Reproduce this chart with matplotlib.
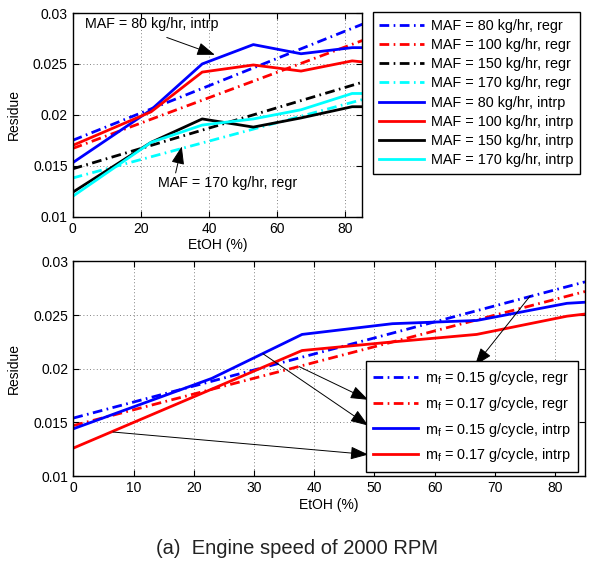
import matplotlib.pyplot as plt
from matplotlib.ticker import FixedLocator

plt.rcParams['font.family'] = ['Liberation Sans', 'DejaVu Sans']
plt.rcParams['font.size'] = 10
plt.rcParams['mathtext.default'] = 'regular'

# EtOH points of the interpolated curves
etoh = [0, 23, 38, 53, 67, 82, 85]
etoh_regr = [0, 85]

# top panel: MAF sweep
maf_labels = ['80', '100', '150', '170']
maf_colors = ['#0000ff', '#ff0000', '#000000', '#00ffff']
maf_regr = [
    [0.0175, 0.0289],
    [0.0167, 0.0273],
    [0.0147, 0.0232],
    [0.0138, 0.0215],
]
maf_intrp = [
    [0.0153, 0.0205, 0.0250, 0.0269, 0.0260, 0.0266, 0.0266],
    [0.0170, 0.0203, 0.0242, 0.0249, 0.0243, 0.0253, 0.0252],
    [0.0124, 0.0173, 0.0196, 0.0188, 0.0197, 0.0208, 0.0208],
    [0.0120, 0.0173, 0.0190, 0.0196, 0.0205, 0.0221, 0.0221],
]

# bottom panel: fuel mass sweep
mf_labels = ['0.15', '0.17']
mf_colors = ['#0000ff', '#ff0000']
mf_regr = [
    [0.0154, 0.0281],
    [0.0147, 0.0272],
]
mf_intrp = [
    [0.0144, 0.0191, 0.0232, 0.0242, 0.0245, 0.0261, 0.0262],
    [0.0126, 0.0181, 0.0217, 0.0225, 0.0232, 0.0249, 0.0251],
]

dashdot = (0, (3.5, 1.6, 0.6, 1.6))
arrow = dict(arrowstyle='-|>,head_length=0.55,head_width=0.2', color='k',
             lw=0.7, mutation_scale=20, shrinkA=0, shrinkB=0)


def style_axes(ax, xticks):
    ax.set_xlim(0, 85)
    ax.set_ylim(0.01, 0.03)
    ax.xaxis.set_major_locator(FixedLocator(xticks))
    ax.set_yticks([0.01, 0.015, 0.02, 0.025, 0.03])
    ax.set_yticklabels(['0.01', '0.015', '0.02', '0.025', '0.03'])
    ax.tick_params(direction='in', top=True, right=True, length=4, width=0.8)
    ax.grid(True, color='0.35', linestyle=(0, (1, 3)), lw=0.6)
    for s in ax.spines.values():
        s.set_linewidth(1.0)
    ax.set_xlabel('EtOH (%)', labelpad=2)
    ax.set_ylabel('Residue', labelpad=9)


fig = plt.figure(figsize=(5.93, 5.61), dpi=100)

ax1 = fig.add_axes([0.1226, 0.6137, 0.4885, 0.3631])
for i in range(4):
    ax1.plot(etoh_regr, maf_regr[i], color=maf_colors[i], ls=dashdot, lw=2,
             label='MAF = %s kg/hr, regr' % maf_labels[i])
for i in range(4):
    ax1.plot(etoh, maf_intrp[i], color=maf_colors[i], lw=2,
             label='MAF = %s kg/hr, intrp' % maf_labels[i])
style_axes(ax1, [0, 20, 40, 60, 80])

ax1.text(3.6, 0.0289, 'MAF = 80 kg/hr, intrp', va='center', fontsize=10.3)
ax1.annotate('', xy=(41.7, 0.0259), xytext=(27.6, 0.0276), arrowprops=arrow)
ax1.text(25.0, 0.0133, 'MAF = 170 kg/hr, regr', va='center', fontsize=10.3)
ax1.annotate('', xy=(32.0, 0.0169), xytext=(30.2, 0.0143), arrowprops=arrow)

fig.legend(*ax1.get_legend_handles_labels(), loc='upper left',
           bbox_to_anchor=(0.6285, 0.978), borderaxespad=0, fancybox=False,
           edgecolor='k', framealpha=1, handlelength=3.1, labelspacing=0.36,
           handletextpad=0.5, borderpad=0.45, fontsize=10.4
           ).get_frame().set_linewidth(1.0)

ax2 = fig.add_axes([0.1236, 0.1515, 0.863, 0.3824])
for i in range(2):
    ax2.plot(etoh_regr, mf_regr[i], color=mf_colors[i], ls=dashdot, lw=2,
             label='$m_f$ = %s g/cycle, regr' % mf_labels[i])
for i in range(2):
    ax2.plot(etoh, mf_intrp[i], color=mf_colors[i], lw=2,
             label='$m_f$ = %s g/cycle, intrp' % mf_labels[i])
style_axes(ax2, list(range(0, 81, 10)))

leg = ax2.legend(loc='lower left', bbox_to_anchor=(0.571, 0.02),
                 borderaxespad=0, fancybox=False, edgecolor='k', framealpha=1,
                 handlelength=3.1, labelspacing=0.55, handletextpad=0.5,
                 borderpad=0.5, fontsize=10.4)
leg.get_frame().set_linewidth(1.0)
leg.set_zorder(3)

ax2.annotate('', xy=(66.7, 0.0203), xytext=(75.9, 0.0268), arrowprops=arrow)
ax2.annotate('', xy=(49.0, 0.0171), xytext=(37.5, 0.0202), arrowprops=arrow)
ax2.annotate('', xy=(49.0, 0.0147), xytext=(31.5, 0.0214), arrowprops=arrow)
ax2.annotate('', xy=(49.0, 0.0120), xytext=(6.6, 0.0141), arrowprops=arrow)

fig.text(0.5, 0.023, '(a)  Engine speed of 2000 RPM', ha='center',
         va='center', fontsize=14.5, color='#222222')

fig.savefig('out.png', dpi=100)
